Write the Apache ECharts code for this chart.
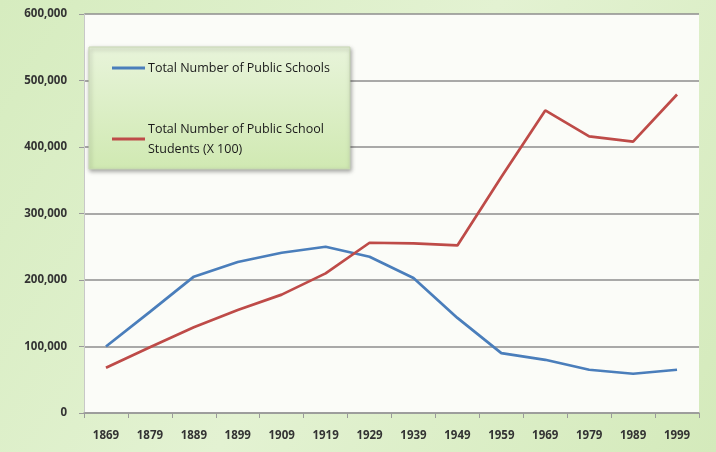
<!DOCTYPE html>
<html><head><meta charset="utf-8">
<script src="https://cdn.jsdelivr.net/npm/echarts@6/dist/echarts.min.js"></script>
<style>html,body{margin:0;padding:0;background:#fff}#c{width:716px;height:452px}</style>
</head><body><div id="c"></div>
<script>
var years = ['1869','1879','1889','1899','1909','1919','1929','1939','1949','1959','1969','1979','1989','1999'];
var schools = [100000,152000,205000,227000,241000,250000,235000,203000,143000,90000,80000,65000,59000,65000];
var students = [68000,99000,129000,155000,178000,210000,256000,255000,252000,355000,455000,416000,408000,479000];
var yTicks = [0,100000,200000,300000,400000,500000,600000];
var name1 = 'Total Number of Public Schools';
var name2 = 'Total Number of Public School\nStudents (X 100)';

var chart = echarts.init(document.getElementById('c'));
var font = 'Open Sans';
chart.setOption({
  backgroundColor: {type:'linear',x:0,y:0,x2:1,y2:1,colorStops:[{offset:0,color:'#d6ecbf'},{offset:0.5,color:'#e3f2d2'},{offset:1,color:'#d4eabb'}]},
  animation:false,
  grid:{left:84,right:17,top:14,bottom:39,show:true,backgroundColor:'#fbfcf8',borderWidth:0},
  legend:{
    orient:'vertical', left:89, top:47, width:298, height:123,
    padding:[11,20,10,23], itemGap:41,
    itemWidth:33, itemHeight:3, icon:'rect',
    backgroundColor:{type:'linear',x:0,y:0,x2:0,y2:1,colorStops:[{offset:0,color:'#e8f4da'},{offset:1,color:'#d0e9b2'}]},
    borderColor:'#c8d8b4', borderWidth:1,
    shadowColor:'rgba(0,0,0,0.35)', shadowBlur:4, shadowOffsetX:1, shadowOffsetY:2,
    textStyle:{fontFamily:font,fontSize:12.5,color:'#1a1a1a',lineHeight:20,padding:[0,0,0,-2]},
    data:[name1,name2]
  },
  xAxis:{
    type:'category', data:years, boundaryGap:true,
    axisLine:{lineStyle:{color:'#9a9a9a',width:1.5}},
    axisTick:{show:true,length:5,lineStyle:{color:'#9a9a9a'}},
    axisLabel:{fontFamily:font,fontSize:11.5,color:'#333',margin:17,fontWeight:'bold'}
  },
  yAxis:{
    type:'value', min:yTicks[0], max:yTicks[yTicks.length-1], interval:yTicks[1]-yTicks[0],
    axisLine:{show:true,lineStyle:{color:'#c8c8c8'}},
    axisTick:{show:true,length:5,lineStyle:{color:'#9a9a9a'}},
    splitLine:{lineStyle:{color:'#8e8e8e',width:1.5}},
    axisLabel:{fontFamily:font,fontSize:11.5,color:'#333',margin:17,fontWeight:'bold',
      formatter:function(v){return v.toLocaleString('en-US');}}
  },
  series:[
    {name:name1,type:'line',data:schools,symbol:'none',lineStyle:{color:'#4a7ebb',width:2.7},itemStyle:{color:'#4a7ebb'}},
    {name:name2,type:'line',data:students,symbol:'none',lineStyle:{color:'#be4b48',width:2.7},itemStyle:{color:'#be4b48'}}
  ]
});
</script></body></html>
